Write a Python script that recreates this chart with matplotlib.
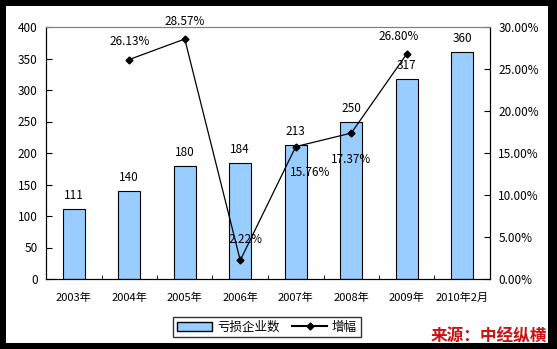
import matplotlib.pyplot as plt
import matplotlib.patches as mpatches
from matplotlib.lines import Line2D
import numpy as np

plt.rcParams['font.family'] = ['Noto Sans CJK SC', 'DejaVu Sans']

years = ['2003年', '2004年', '2005年', '2006年', '2007年', '2008年', '2009年', '2010年2月']
losses = [111, 140, 180, 184, 213, 250, 317, 360]
growth = [np.nan, 26.13, 28.57, 2.22, 15.76, 17.37, 26.80, np.nan]
growth_offsets = [None, (0, 8), (0, 8), (4, 10), (10, -14), (0, -14), (-6, 8), None]

W, H = 557, 349
fig = plt.figure(figsize=(W / 100, H / 100), dpi=100, facecolor='black')
fig.patches.append(mpatches.Rectangle((6 / W, 6 / H), (548 - 6) / W, (343 - 6) / H,
                                      transform=fig.transFigure, facecolor='white',
                                      edgecolor='none', zorder=-10))

ax = fig.add_axes([46 / W, (H - 279) / H, 444 / W, 252 / H])
ax.set_facecolor('none')
x = np.arange(len(years))
ax.bar(x, losses, width=0.4, color='#99CCFF', edgecolor='black', linewidth=0.8, zorder=2)
for xi, v in zip(x, losses):
    ax.annotate(str(v), (xi, v), xytext=(0, 5), textcoords='offset points',
                ha='center', va='bottom', fontsize=8.5)
ax.set_xlim(-0.5, len(years) - 0.5)
ax.set_ylim(0, 400)
ax.set_yticks(range(0, 401, 50))
ax.set_xticks(x)
ax.set_xticklabels(years)
ax.set_xticks(np.arange(-0.5, len(years)), minor=True)
ax.tick_params(axis='x', which='major', length=0, labelsize=8, pad=10)
ax.tick_params(axis='x', which='minor', direction='in', length=3)
ax.tick_params(axis='y', direction='in', length=4, labelsize=8.5, pad=6)
ax.spines['top'].set_color('#808080')

ax2 = ax.twinx()
ax2.plot(x, growth, color='black', marker='D', markersize=3.5, linewidth=0.9, zorder=3)
for xi, v, off in zip(x, growth, growth_offsets):
    if off is None:
        continue
    ax2.annotate(f'{v:.2f}%', (xi, v), xytext=off, textcoords='offset points',
                 ha='center', va='bottom' if off[1] > 0 else 'top', fontsize=8.5)
ax2.set_ylim(0, 30)
ax2.set_yticks(range(0, 31, 5))
ax2.set_yticklabels([f'{t:.2f}%' for t in range(0, 31, 5)])
ax2.tick_params(axis='y', direction='in', length=4, labelsize=8.5, pad=6)
ax2.spines['top'].set_color('#808080')

handles = [mpatches.Patch(facecolor='#99CCFF', edgecolor='black', label='亏损企业数'),
           Line2D([], [], color='black', marker='D', markersize=3.5, label='增幅')]
fig.legend(handles=handles, loc='center', bbox_to_anchor=(267 / W, (H - 327) / H),
           ncol=2, fontsize=9, frameon=True, fancybox=False, edgecolor='black',
           handlelength=2.8, borderpad=0.3, columnspacing=1.0, handletextpad=0.4)

fig.text(547 / W, (H - 336) / H, '来源：中经纵横', color='#CC1111', fontsize=12,
         fontweight='bold', style='italic', ha='right', va='center')

fig.savefig('out.png', dpi=100, facecolor='black')
